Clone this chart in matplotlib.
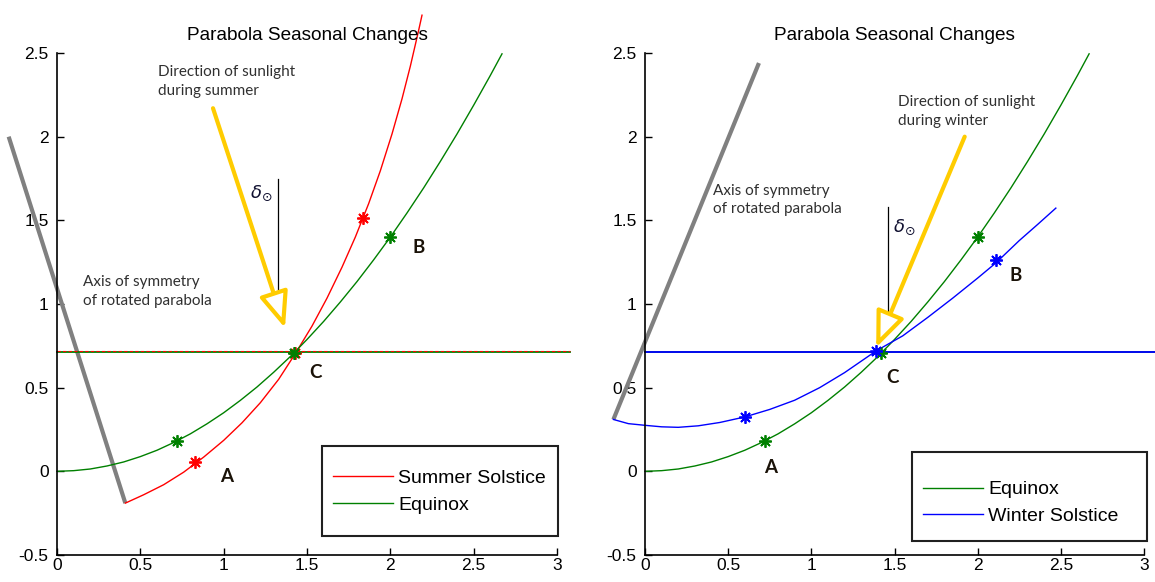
import matplotlib.pyplot as plt
from matplotlib.patches import Rectangle

# tick values / labels
xticks = [0, 0.5, 1, 1.5, 2, 2.5, 3]
xtick_labels = ['0', '0.5', '1', '1.5', '2', '2.5', '3']
yticks = [-0.5, 0, 0.5, 1, 1.5, 2, 2.5]
ytick_labels = ['-0.5', '0', '0.5', '1', '1.5', '2', '2.5']

# equinox parabola (same in both panels)
eq_x = [0, 0.1, 0.2, 0.3, 0.4, 0.5, 0.6, 0.7, 0.8, 0.9, 1.0, 1.1, 1.2, 1.3, 1.4,
        1.5, 1.6, 1.7, 1.8, 1.9, 2.0, 2.1, 2.2, 2.3, 2.4, 2.5, 2.6, 2.67]
eq_y = [0, 0.004, 0.014, 0.032, 0.056, 0.088, 0.126, 0.172, 0.224, 0.284, 0.35, 0.424,
        0.504, 0.592, 0.686, 0.788, 0.896, 1.012, 1.134, 1.264, 1.40, 1.544, 1.694,
        1.852, 2.016, 2.188, 2.366, 2.495]
eq_star_x = [0.72, 1.42, 2.0]
eq_star_y = [0.18, 0.71, 1.40]

# summer solstice (rotated parabola)
sum_x = [0.41, 0.52, 0.64, 0.76, 0.88, 1.00, 1.11, 1.22, 1.33, 1.434, 1.53, 1.62,
         1.71, 1.79, 1.87, 1.94, 2.01, 2.07, 2.12, 2.17, 2.19]
sum_y = [-0.19, -0.14, -0.08, -0.005, 0.085, 0.185, 0.29, 0.41, 0.55, 0.71, 0.868, 1.035,
         1.22, 1.40, 1.60, 1.796, 2.016, 2.226, 2.421, 2.636, 2.726]
sum_star_x = [0.83, 1.43, 1.836]
sum_star_y = [0.056, 0.71, 1.514]

# winter solstice (rotated parabola)
win_x = [-0.19, -0.1, 0.0, 0.1, 0.2, 0.32, 0.45, 0.6, 0.75, 0.9, 1.05, 1.2,
         1.39, 1.55, 1.7, 1.85, 2.0, 2.11, 2.25, 2.36, 2.47]
win_y = [0.31, 0.285, 0.275, 0.266, 0.263, 0.272, 0.292, 0.325, 0.37, 0.425, 0.50, 0.59,
         0.72, 0.81, 0.92, 1.035, 1.155, 1.246, 1.379, 1.475, 1.573]
win_star_x = [0.6, 1.39, 2.11]
win_star_y = [0.325, 0.72, 1.26]

# horizontal line through C
horiz_x = [0, 3.08]
horiz_y = [0.715, 0.715]

# axis of symmetry lines
sym_sum_x = [-0.29, 0.41]
sym_sum_y = [2.0, -0.19]
sym_win_x = [-0.19, 0.685]
sym_win_y = [0.31, 2.44]

RED = '#ff0000'
GREEN = '#008000'
BLUE = '#0000ff'
GOLD = '#ffcc00'
GRAY = '#808080'
STAR = (8, 2, 0)

plt.rcParams['font.family'] = ['Liberation Sans', 'DejaVu Sans']

fig = plt.figure(figsize=(11.55, 5.82), dpi=100)
ax1 = fig.add_axes([57 / 1155, 27 / 582, 500 / 1155, 502 / 582])
ax2 = fig.add_axes([645 / 1155, 27 / 582, 499 / 1155, 502 / 582])


def style_axes(ax):
    ax.set_xlim(0, 3)
    ax.set_ylim(-0.5, 2.5)
    ax.set_xticks(xticks)
    ax.set_xticklabels(xtick_labels)
    ax.set_yticks(yticks)
    ax.set_yticklabels(ytick_labels)
    ax.spines['top'].set_visible(False)
    ax.spines['right'].set_visible(False)
    for s in ['left', 'bottom']:
        ax.spines[s].set_linewidth(1.2)
    ax.tick_params(direction='in', length=5, width=1, labelsize=12.5)
    ax.tick_params(axis='x', pad=2)
    ax.tick_params(axis='y', pad=6)
    ax.set_title('Parabola Seasonal Changes', fontsize=13.7, pad=9.5)


def note(ax, x, y, s):
    ax.text(x, y, s, fontsize=11, family=['Lato', 'DejaVu Sans'], color='#303030',
            va='top', ha='left', linespacing=1.45)


def letter(ax, x, y, s):
    ax.text(x, y, s, fontsize=13.5, family=['Lato', 'DejaVu Sans'], fontweight='bold',
            color='#1a1208', ha='center', va='center')


def sun_arrow(ax, start, tip):
    ax.annotate('', xy=tip, xytext=start,
                arrowprops=dict(arrowstyle='-|>,head_length=2.2,head_width=0.9',
                                lw=3, ec=GOLD, fc='white', shrinkA=0, shrinkB=0))


def legend_box(ax, x0, y0, x1, y1, loc_xy):
    ax.add_patch(Rectangle((x0, y0), x1 - x0, y1 - y0, transform=ax.transAxes,
                           fill=False, ec='#202020', lw=1.5, clip_on=False, zorder=5))
    ax.legend(loc='upper left', bbox_to_anchor=loc_xy, frameon=False, fontsize=14,
              borderpad=0, borderaxespad=0, handlelength=3.1, handletextpad=0.25,
              labelspacing=0.45)


# ---- left panel: summer ----
style_axes(ax1)
ax1.plot(sym_sum_x, sym_sum_y, color=GRAY, lw=3, clip_on=False, solid_capstyle='butt')
ax1.plot(horiz_x, horiz_y, color=GREEN, lw=1.3, clip_on=False)
ax1.plot(horiz_x, [v + 0.004 for v in horiz_y], color=RED, lw=0.8, ls=(0, (3, 2)), clip_on=False)
ax1.plot(sum_x, sum_y, color=RED, lw=1, clip_on=False, label='Summer Solstice')
ax1.plot(eq_x, eq_y, color=GREEN, lw=1, clip_on=False, label='Equinox')
ax1.plot(sum_star_x, sum_star_y, ls='none', marker=STAR, ms=9, mew=1.3, color=RED)
ax1.plot(eq_star_x, eq_star_y, ls='none', marker=STAR, ms=9, mew=1.3, color=GREEN)
sun_arrow(ax1, (0.936, 2.17), (1.368, 0.857))
ax1.plot([1.324, 1.324], [1.747, 1.066], color='black', lw=0.9)
ax1.text(1.158, 1.664, r'$\delta_{\odot}$', fontsize=13, va='center', ha='left', color='#101030')
note(ax1, 0.606, 2.43, 'Direction of sunlight\nduring summer')
note(ax1, 0.156, 1.175, 'Axis of symmetry\nof rotated parabola')
letter(ax1, 1.02, -0.03, 'A')
letter(ax1, 2.17, 1.335, 'B')
letter(ax1, 1.55, 0.59, 'C')
legend_box(ax1, 0.53, 0.038, 1.002, 0.217, (0.552, 0.17))

# ---- right panel: winter ----
style_axes(ax2)
ax2.plot(sym_win_x, sym_win_y, color=GRAY, lw=3, clip_on=False, solid_capstyle='butt')
ax2.plot(eq_x, eq_y, color=GREEN, lw=1, clip_on=False, label='Equinox')
ax2.plot(horiz_x, [v - 0.004 for v in horiz_y], color=GREEN, lw=1.2, clip_on=False)
ax2.plot(horiz_x, horiz_y, color=BLUE, lw=1.3, clip_on=False)
ax2.plot(win_x, win_y, color=BLUE, lw=1, clip_on=False, label='Winter Solstice')
ax2.plot(eq_star_x, eq_star_y, ls='none', marker=STAR, ms=9, mew=1.3, color=GREEN)
ax2.plot(win_star_x, win_star_y, ls='none', marker=STAR, ms=9, mew=1.3, color=BLUE)
sun_arrow(ax2, (1.922, 2.0), (1.39, 0.74))
ax2.plot([1.46, 1.46], [1.58, 0.958], color='black', lw=0.9)
ax2.text(1.49, 1.46, r'$\delta_{\odot}$', fontsize=13, va='center', ha='left', color='#101030')
note(ax2, 1.52, 2.25, 'Direction of sunlight\nduring winter')
note(ax2, 0.41, 1.72, 'Axis of symmetry\nof rotated parabola')
letter(ax2, 0.757, 0.02, 'A')
letter(ax2, 2.23, 1.17, 'B')
letter(ax2, 1.49, 0.56, 'C')
legend_box(ax2, 0.535, 0.028, 1.006, 0.205, (0.557, 0.148))

fig.savefig('out.png', dpi=100)
